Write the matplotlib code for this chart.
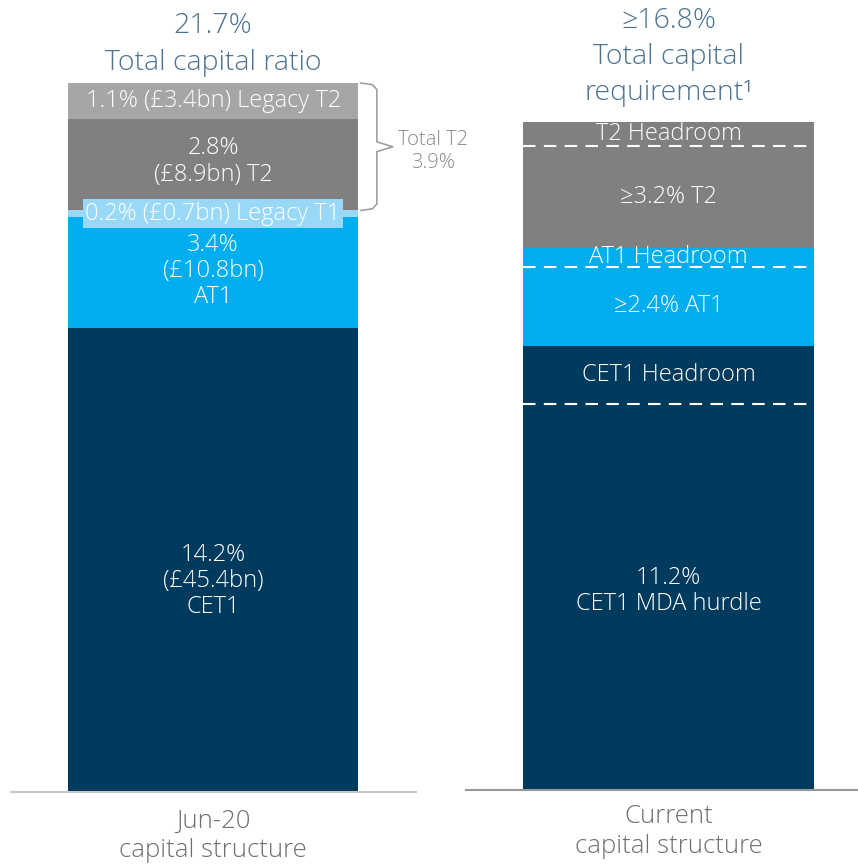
import matplotlib
matplotlib.use("Agg")
import matplotlib.pyplot as plt
import numpy as np

plt.rcParams['font.family'] = ['Open Sans', 'DejaVu Sans']

# left bar: Jun-20 capital structure (bottom to top)
left_vals = [14.2, 3.4, 0.2, 2.8, 1.1]
left_colors = ['#003A5D', '#00AEEF', '#99D9F7', '#808080', '#A6A6A6']
left_labels = ['14.2%\n(£45.4bn)\nCET1', '3.4%\n(£10.8bn)\nAT1',
               '0.2% (£0.7bn) Legacy T1', '2.8%\n(£8.9bn) T2',
               '1.1% (£3.4bn) Legacy T2']
left_label_shift = [-0.65, 0.05, 0.0, 0.1, 0.0]

# right bar: current requirement (schematic heights as drawn)
right_vals = [11.8, 1.8, 2.4, 0.6, 3.1, 0.75]
right_colors = ['#003A5D', '#003A5D', '#00AEEF', '#00AEEF', '#808080', '#808080']
right_labels = ['11.2%\nCET1 MDA hurdle', 'CET1 Headroom', '≥2.4% AT1',
                'AT1 Headroom', '≥3.2% T2', 'T2 Headroom']
right_label_shift = [0.2, 0.0, 0.0, 0.0, 0.0, 0.0]
dashed_after = [0, 2, 4]  # dashed line on top of these segments

left_title = ['21.7%', 'Total capital ratio']
right_title = ['≥16.8%', 'Total capital', 'requirement¹']
left_xlabel = 'Jun-20\ncapital structure'
right_xlabel = 'Current\ncapital structure'
bracket_text = 'Total T2\n3.9%'

W, H = 858, 866
px = 32.67  # pixels per percentage point
fig = plt.figure(figsize=(W / 100, H / 100), dpi=100)

title_col = '#4D7390'
grey_txt = '#707070'
fw = 'light'


def make_ax(x0, x1, base, axcol):
    ax = fig.add_axes([x0 / W, (H - base) / H, (x1 - x0) / W, base / H])
    ax.set_ylim(0, base / px)
    for s in ['top', 'right', 'left']:
        ax.spines[s].set_visible(False)
    ax.spines['bottom'].set_color(axcol)
    ax.spines['bottom'].set_linewidth(1.5)
    ax.set_xticks([])
    ax.set_yticks([])
    ax.patch.set_alpha(0)
    return ax


axl = make_ax(11, 416, 792, '#C8C8C8')
axl.set_xlim(-0.697, 0.7)
axr = make_ax(466, 858, 790, '#999999')
axr.set_xlim(-0.696, 0.651)

# left bar
bottoms = np.concatenate([[0], np.cumsum(left_vals)[:-1]])
axl.bar(0, left_vals, bottom=bottoms, width=1, color=left_colors, linewidth=0)
for i, (b, v, lab) in enumerate(zip(bottoms, left_vals, left_labels)):
    y = b + v / 2 + left_label_shift[i]
    kw = dict(ha='center', va='center', color='white', fontsize=17,
              linespacing=1.12, fontweight=fw)
    if i == 2:
        kw['bbox'] = dict(boxstyle='square,pad=0.1', fc=left_colors[2], ec='none')
    axl.text(0, y, lab, **kw)

# bracket for total T2
y_lo = bottoms[2] + left_vals[2]
y_hi = sum(left_vals)
y_mid = (y_lo + y_hi) / 2
bx = [0.51, 0.55, 0.565, 0.565, 0.62, 0.565, 0.565, 0.55, 0.51]
by = [y_hi, y_hi - 0.05, y_hi - 0.2, y_mid + 0.15, y_mid, y_mid - 0.15,
      y_lo + 0.2, y_lo + 0.05, y_lo]
axl.plot(bx, by, color='#A0A0A0', lw=1.2, clip_on=False)
axl.text(0.76, y_mid - 0.15, bracket_text, ha='center', va='center',
         color='#8A8A8A', fontsize=14.5, linespacing=1.2, clip_on=False,
         fontweight=fw)

# right bar
rb = np.concatenate([[0], np.cumsum(right_vals)[:-1]])
axr.bar(0, right_vals, bottom=rb, width=1, color=right_colors, linewidth=0)
for i in dashed_after:
    yy = rb[i] + right_vals[i]
    axr.plot([-0.5, 0.5], [yy, yy], color='white', lw=1.5, ls=(0, (6, 4)))
for i, (b, v, lab) in enumerate(zip(rb, right_vals, right_labels)):
    axr.text(0, b + v / 2 + right_label_shift[i], lab, ha='center', va='center',
             color='white', fontsize=17, linespacing=1.12, fontweight=fw)

# titles
for ax, lines, base, tops in [(axl, left_title, 792, [26, 63]),
                              (axr, right_title, 790, [21, 57, 93])]:
    for t, ypx in zip(lines, tops):
        ax.text(0, (base - ypx) / px, t, ha='center', va='center',
                color=title_col, fontsize=20.5, clip_on=False, fontweight=fw)

# category labels
axl.text(0, -17 / px, left_xlabel, ha='center', va='top', color=grey_txt,
         fontsize=18.5, linespacing=1.22, clip_on=False, fontweight=fw)
axr.text(0, -14 / px, right_xlabel, ha='center', va='top', color=grey_txt,
         fontsize=18.5, linespacing=1.27, clip_on=False, fontweight=fw)

fig.savefig('out.png', dpi=100)
